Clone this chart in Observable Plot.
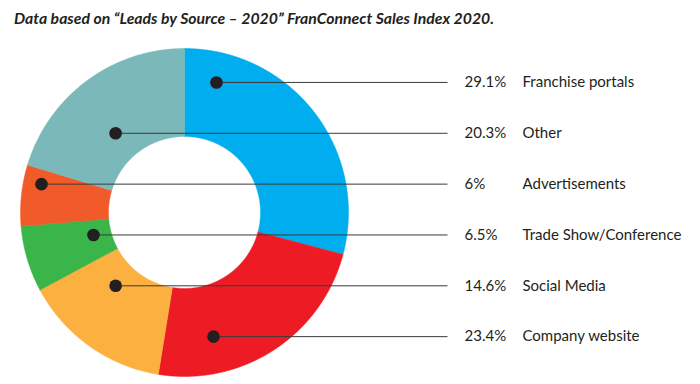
<!DOCTYPE html>
<html><head><meta charset="utf-8">
<script src="https://cdn.jsdelivr.net/npm/d3@7"></script>
<script src="https://cdn.jsdelivr.net/npm/@observablehq/plot@0.6"></script>
<style>
body{margin:0;background:#fff;}
#title{height:36px;line-height:36px;padding-left:14px;font-family:Lato,sans-serif;font-style:italic;font-weight:700;font-size:15.8px;color:#231f20;white-space:nowrap;}
#chart svg{display:block;}
</style>
</head><body>
<div id="title">Data based on “Leads by Source – 2020” FranConnect Sales Index 2020.</div>
<div id="chart"></div>
<script>
// Data (clockwise from 12 o'clock)
const categories = ["Franchise portals","Company website","Social Media","Trade Show/Conference","Advertisements","Other"];
const shares = [29.1, 23.4, 14.6, 6.5, 6, 20.3];
const valueLabels = ["29.1%","23.4%","14.6%","6.5%","6%","20.3%"];
const colors = ["#00aeef","#ed1c24","#fbb040","#39b54a","#f15a29","#7ab8b9"];
// Label order, top to bottom
const legendOrder = ["Franchise portals","Other","Advertisements","Trade Show/Conference","Social Media","Company website"];

// Layout (unit = outer radius)
const R = 164, W = 700, H = 348, cx = 184, cy = 176;
const inner = 76 / R;
const dotX = {"Franchise portals":0.195,"Other":-0.42,"Advertisements":-0.872,"Trade Show/Conference":-0.555,"Social Media":-0.42,"Company website":0.177};
const rowTop = 0.793, rowStep = 0.31;
const lineEndX = (447 - cx) / R, valueX = (464 - cx) / R, labelX = (522 - cx) / R;

const total = d3.sum(shares);
const pie = [];
let acc = 0;
categories.forEach((c, i) => {
  const a0 = acc / total * 2 * Math.PI;
  acc += shares[i];
  const a1 = acc / total * 2 * Math.PI;
  const n = Math.max(2, Math.ceil((a1 - a0) / 0.005));
  for (let k = 0; k <= n; k++) { const a = a0 + (a1 - a0) * k / n; pie.push({cat: c, x: Math.sin(a), y: Math.cos(a)}); }
  for (let k = n; k >= 0; k--) { const a = a0 + (a1 - a0) * k / n; pie.push({cat: c, x: inner * Math.sin(a), y: inner * Math.cos(a)}); }
  pie.push({cat: c, x: Math.sin(a0), y: Math.cos(a0)});
});

const rows = legendOrder.map((c, i) => ({
  cat: c,
  value: valueLabels[categories.indexOf(c)],
  y: rowTop - i * rowStep,
  x0: dotX[c]
}));

const chart = Plot.plot({
  width: W, height: H,
  marginTop: 0, marginRight: 0, marginBottom: 0, marginLeft: 0,
  x: {domain: [-cx / R, (W - cx) / R], range: [0, W], axis: null},
  y: {domain: [-(H - cy) / R, cy / R], range: [H, 0], axis: null},
  color: {domain: categories, range: colors},
  style: {fontFamily: "Lato, sans-serif", background: "#fff"},
  marks: [
    Plot.line(pie, {x: "x", y: "y", z: "cat", fill: "cat", stroke: "cat", strokeWidth: 0.5, curve: "linear"}),
    Plot.link(rows, {x1: "x0", y1: "y", x2: () => lineEndX, y2: "y", stroke: "#3a3a3a", strokeWidth: 1}),
    Plot.dot(rows, {x: "x0", y: "y", r: 6.3, fill: "#231f20", stroke: null}),
    Plot.text(rows, {x: () => valueX, y: "y", text: "value", textAnchor: "start", fontSize: 15, fill: "#231f20"}),
    Plot.text(rows, {x: () => labelX, y: "y", text: "cat", textAnchor: "start", fontSize: 15, fill: "#231f20"})
  ]
});
document.getElementById("chart").appendChild(chart);
</script>
</body></html>
